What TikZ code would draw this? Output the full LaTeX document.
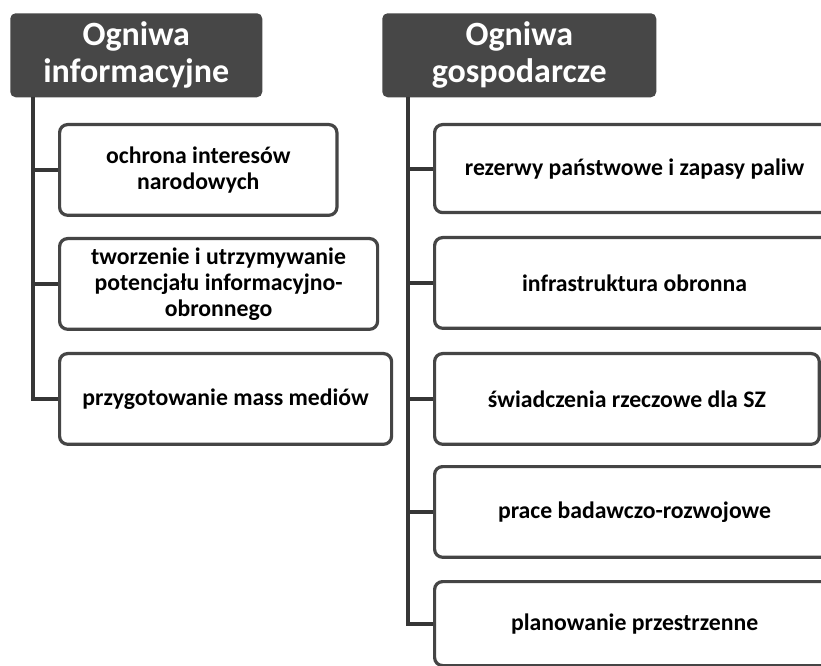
\documentclass[tikz,border=0pt]{standalone}
\usepackage{fontspec}
\setmainfont{Carlito}
\begin{document}
\begin{tikzpicture}[x=0.75pt,y=-0.75pt,
  header/.style={draw=none,fill=hdrgray,rounded corners=4pt,text=white,
    font=\bfseries\fontsize{25.5}{28}\selectfont,align=center,inner sep=0pt,anchor=north west},
  item/.style={draw=boxgray,line width=2.4pt,rounded corners=6pt,fill=white,
    font=\bfseries\fontsize{17.8}{19.5}\selectfont,align=center,inner sep=0pt,anchor=north west},
  conn/.style={draw=linegray,line width=3pt}]
\definecolor{hdrgray}{HTML}{474747}
\definecolor{boxgray}{HTML}{454545}
\definecolor{linegray}{HTML}{363636}
\useasboundingbox (0,0) rectangle (821,666);
\clip (0,0) rectangle (821,666);
\fill[white] (0,0) rectangle (821,666);

% column headers
\node[header,minimum width=189pt,minimum height=63pt] (h1) at (10,13) {Ogniwa\\informacyjne};
\node[header,minimum width=205.5pt,minimum height=63pt] (h2) at (382,13) {Ogniwa\\gospodarcze};

% left column
\coordinate (t1) at (33,97);
\node[item,minimum width=208pt,minimum height=68pt] (a1) at (58,123) {ochrona interesów\\narodowych};
\node[item,minimum width=238.5pt,minimum height=68pt] (a2) at (58,237) {tworzenie i utrzymywanie\\potencjału informacyjno-\\obronnego};
\node[item,minimum width=249pt,minimum height=68pt] (a3) at (58,352) {przygotowanie mass mediów};

% right column (wider boxes run past the right edge)
\coordinate (t2) at (408,97);
\node[item,minimum width=300pt,minimum height=66pt] (b1) at (433,123) {rezerwy państwowe i zapasy paliw};
\node[item,minimum width=300pt,minimum height=68pt] (b2) at (433,236) {infrastruktura obronna};
\node[item,minimum width=288.5pt,minimum height=68pt] (b3) at (433,352) {świadczenia rzeczowe dla SZ};
\node[item,minimum width=300pt,minimum height=68pt] (b4) at (433,465) {prace badawczo-rozwojowe};
\node[item,minimum width=300pt,minimum height=63pt] (b5) at (433,580) {planowanie przestrzenne};

% connectors
\draw[conn] (t1) |- (a3.west);
\draw[conn] (a1.west) -- (a1.west -| t1);
\draw[conn] (a2.west) -- (a2.west -| t1);
\draw[conn] (t2) |- (b5.west);
\foreach \b in {b1,b2,b3,b4} \draw[conn] (\b.west) -- (\b.west -| t2);
\end{tikzpicture}
\end{document}
